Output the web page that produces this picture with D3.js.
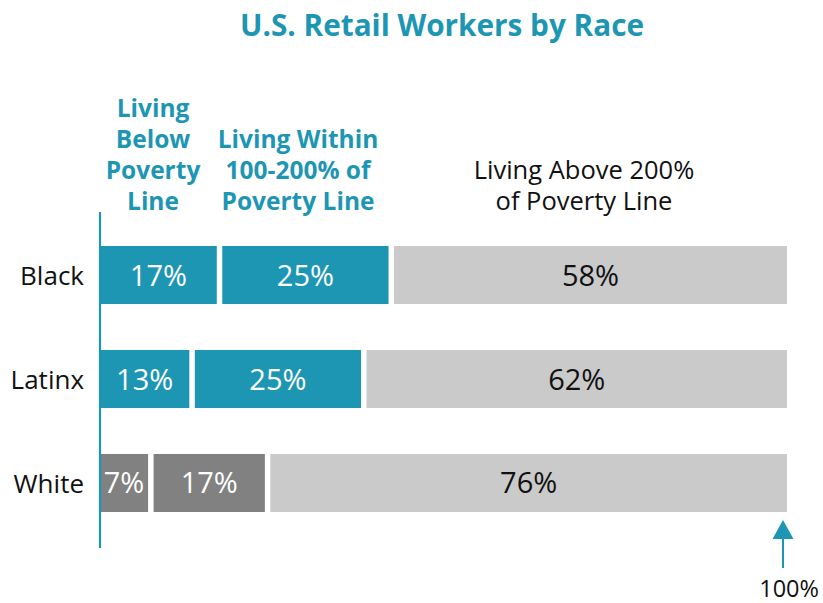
<!DOCTYPE html>
<html><head><meta charset="utf-8">
<script src="https://cdn.jsdelivr.net/npm/d3@7"></script>
<style>body{margin:0;background:#fff}svg{display:block}text{font-family:"Open Sans",sans-serif}</style>
</head><body><svg id="c" width="823" height="603"></svg>
<script>
const categories = ["Black", "Latinx", "White"];
const below = [17, 13, 7];
const within = [25, 25, 17];
const above = [58, 62, 76];
const seriesNames = ["Living Below Poverty Line", "Living Within 100-200% of Poverty Line", "Living Above 200% of Poverty Line"];
const headerLines = [["Living", "Below", "Poverty", "Line"], ["Living Within", "100-200% of", "Poverty Line"], ["Living Above 200%", "of Poverty Line"]];
const title = "U.S. Retail Workers by Race";
const endLabel = "100%";

const TEAL = "#1d96b4", DARK = "#818181", LIGHT = "#cacaca";
const svg = d3.select("#c");
const x = d3.scaleLinear().domain([0, 100]).range([100, 787]);
const y = d3.scaleBand().domain(categories).range([246, 512]).paddingInner(0.442).paddingOuter(0);
const rows = categories.map((c, i) => {
  const vals = [below[i], within[i], above[i]];
  let cum = 0;
  return vals.map((v, j) => { const s = {cat: c, i, j, v, x0: cum, x1: cum + v}; cum += v; return s; });
}).flat();

function fill(d) {
  if (d.j === 2) return LIGHT;
  return d.cat === "White" ? DARK : TEAL;
}
const gap = 5.5;
svg.append("g").selectAll("rect").data(rows).join("rect")
  .attr("x", d => x(d.x0) + (d.j > 0 ? gap : 0))
  .attr("y", d => y(d.cat))
  .attr("width", d => x(d.x1) - x(d.x0) - (d.j > 0 ? gap : 0))
  .attr("height", y.bandwidth())
  .attr("fill", fill);

svg.append("g").selectAll("text").data(rows).join("text")
  .attr("x", d => (x(d.x0) + (d.j > 0 ? gap : 0) + x(d.x1)) / 2)
  .attr("y", d => y(d.cat) + y.bandwidth() / 2 + 10.5)
  .attr("text-anchor", "middle")
  .attr("font-size", 29)
  .attr("fill", d => d.j === 2 ? "#111" : "#fff")
  .text(d => d.v + "%");

// category labels
svg.append("g").selectAll("text").data(categories).join("text")
  .attr("x", 84).attr("y", d => y(d) + y.bandwidth() / 2 + 10)
  .attr("text-anchor", "end").attr("font-size", 26).attr("fill", "#111")
  .text(d => d);

// axis line
svg.append("line").attr("x1", 100).attr("x2", 100).attr("y1", 212).attr("y2", 548)
  .attr("stroke", TEAL).attr("stroke-width", 2.2);

// title
svg.append("text").attr("x", 442).attr("y", 36).attr("text-anchor", "middle")
  .attr("font-size", 30).attr("font-weight", "bold").attr("fill", TEAL)
  .attr("textLength", 404).attr("lengthAdjust", "spacingAndGlyphs")
  .text(title);

// headers
const headerX = [153, 298, 584];
const headerStyle = [{c: TEAL, w: "bold", s: 24.5}, {c: TEAL, w: "bold", s: 24.5}, {c: "#111", w: "normal", s: 25.5}];
headerLines.forEach((lines, k) => {
  const n = lines.length;
  lines.forEach((t, li) => {
    svg.append("text").attr("x", headerX[k]).attr("y", 210 - (n - 1 - li) * 31)
      .attr("text-anchor", "middle").attr("font-size", headerStyle[k].s)
      .attr("font-weight", headerStyle[k].w).attr("fill", headerStyle[k].c)
      .text(t);
  });
});

// 100% arrow
const ax = x(100) - 4;
svg.append("line").attr("x1", ax).attr("x2", ax).attr("y1", 536).attr("y2", 568)
  .attr("stroke", TEAL).attr("stroke-width", 2);
svg.append("path").attr("d", `M${ax},520L${ax + 10.5},539L${ax - 10.5},539Z`).attr("fill", TEAL);
svg.append("text").attr("x", 819).attr("y", 597).attr("text-anchor", "end")
  .attr("font-size", 23.5).attr("fill", "#111").text(endLabel);
</script></body></html>
